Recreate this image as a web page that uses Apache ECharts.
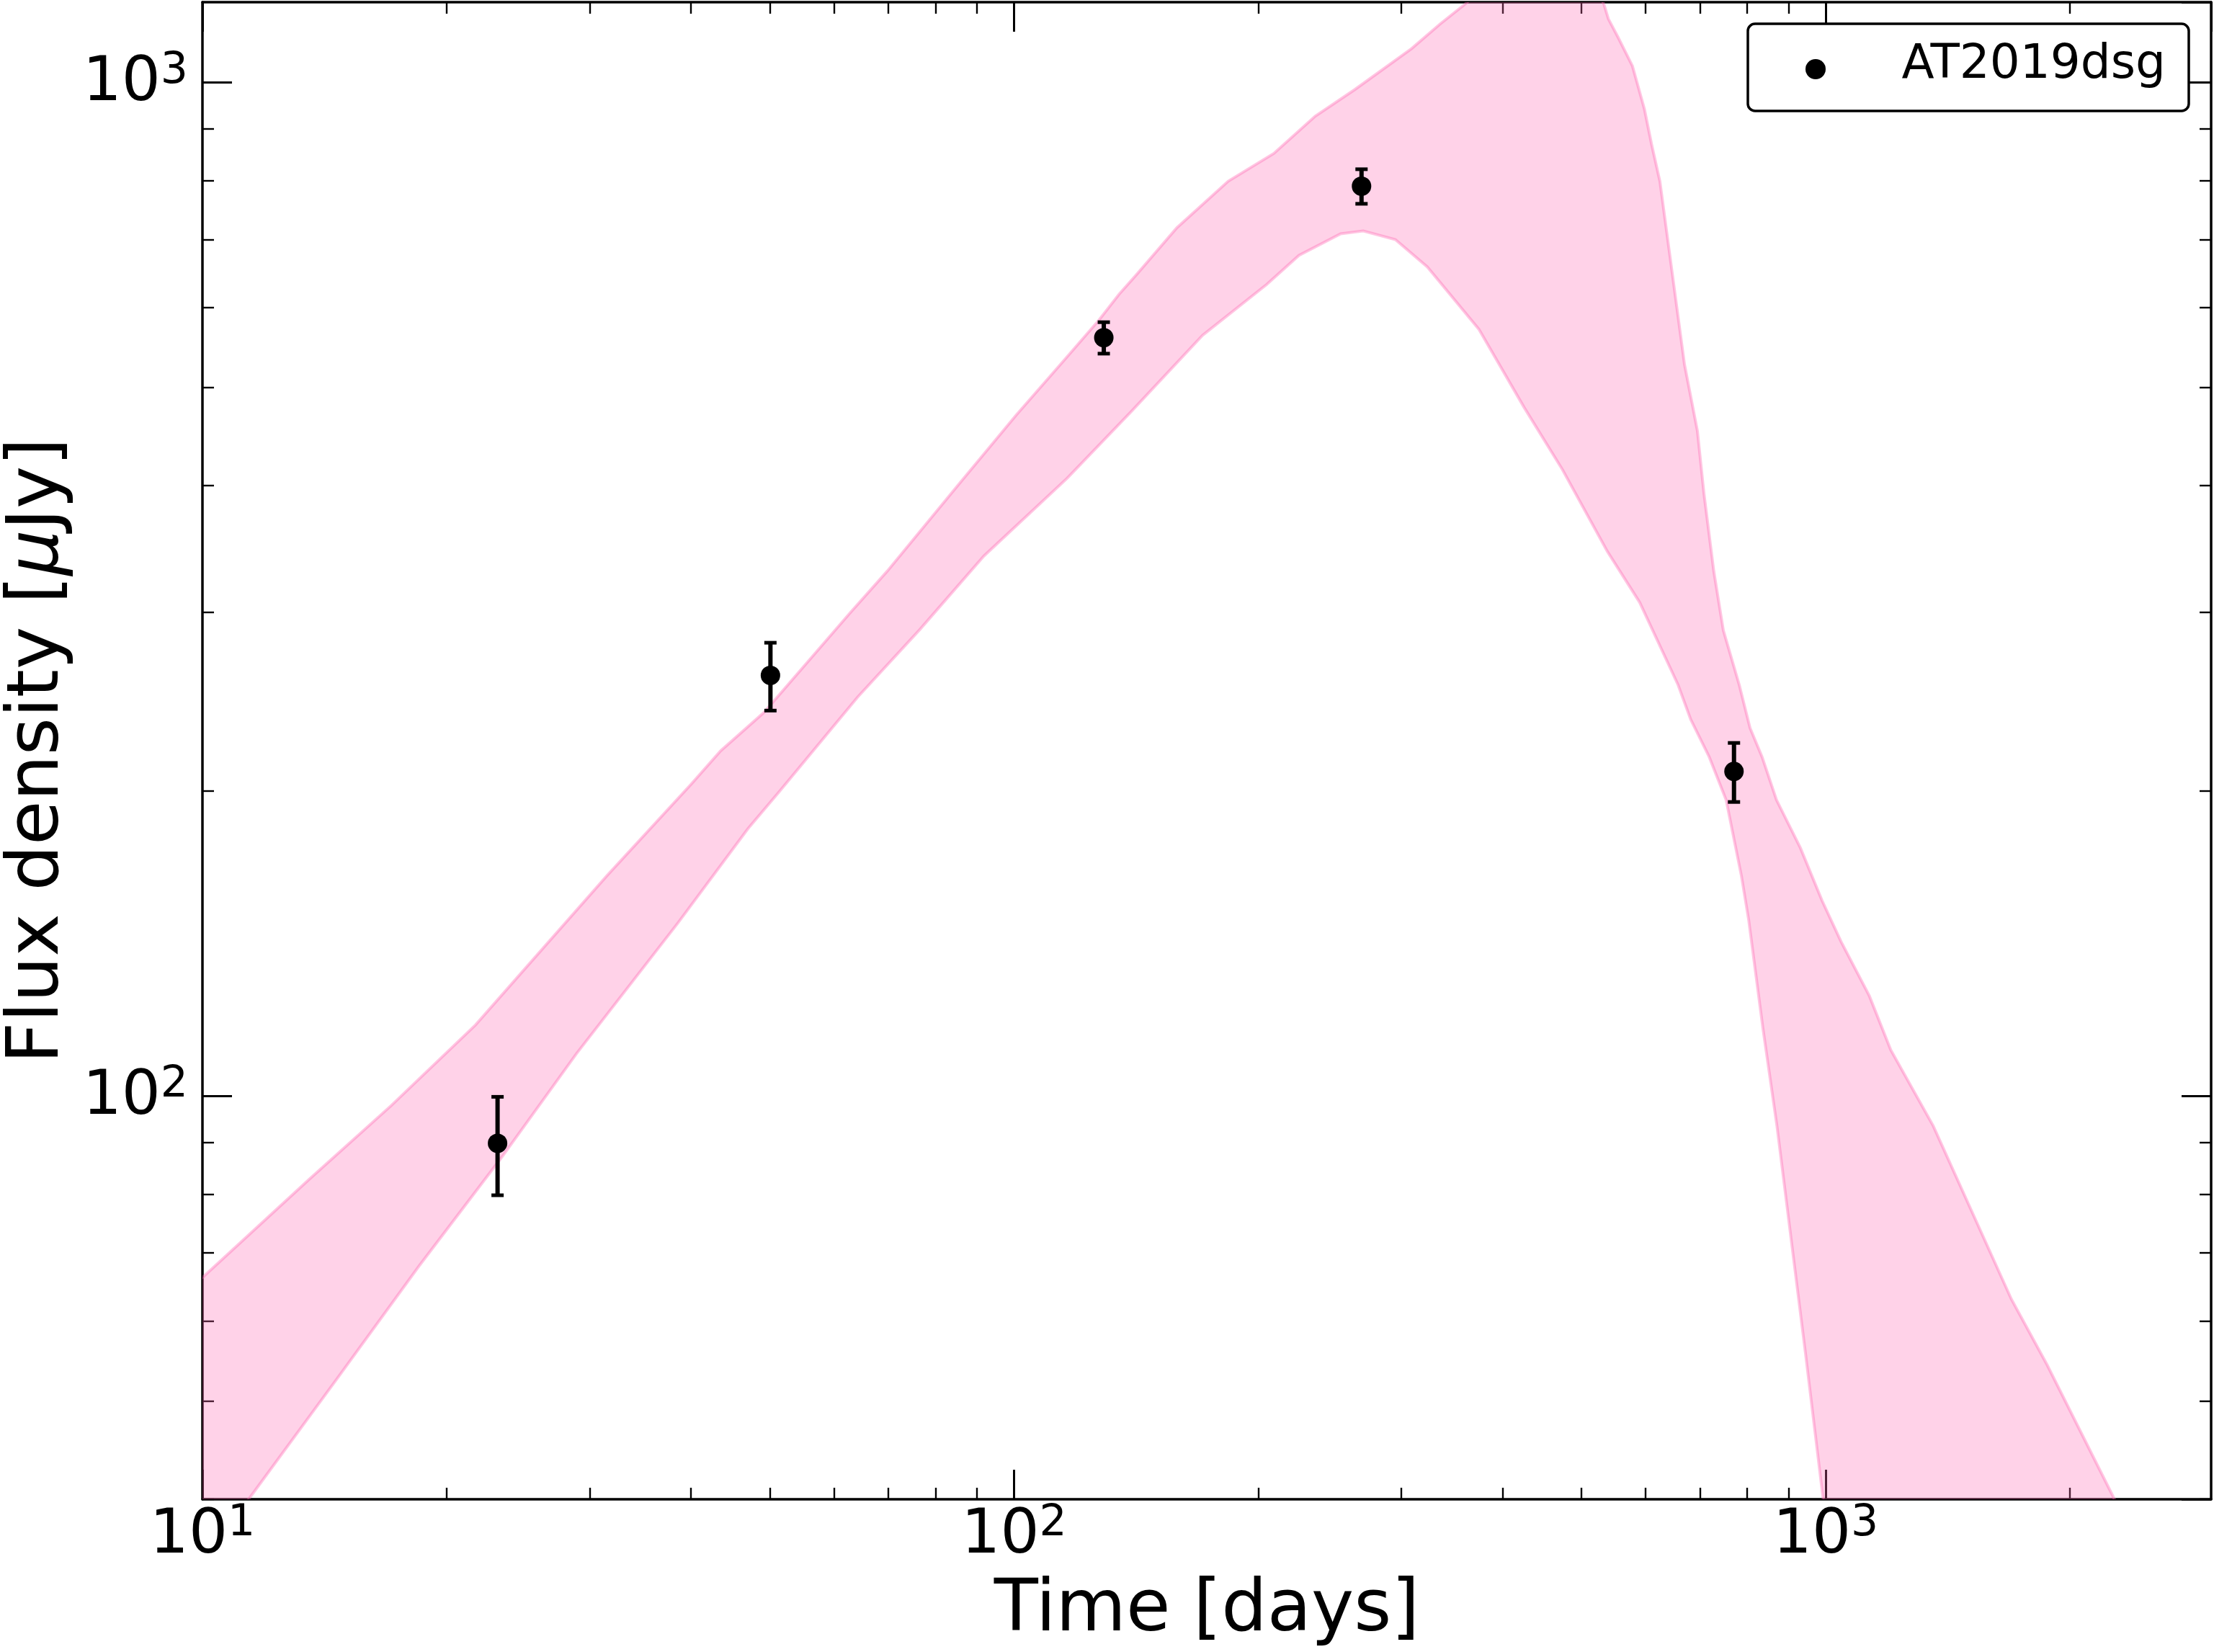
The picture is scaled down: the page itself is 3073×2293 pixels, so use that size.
<!DOCTYPE html>
<html>
<head>
<meta charset="utf-8">
<script src="https://cdn.jsdelivr.net/npm/echarts@6/dist/echarts.min.js"></script>
<style>
  html, body { margin: 0; padding: 0; background: #fff; }
  #chart { width: 3073px; height: 2293px; }
</style>
</head>
<body>
<div id="chart"></div>
<script>
// observed flux densities
const days = [23.1, 50.1, 129, 268, 771]
const flux = [89.8, 260, 560, 790, 209]
const fluxErr = [10, 20, 20, 31, 14]

// model band edges [days, flux]
const bandUpper = [
  [9.8, 65.8], [10, 66.2], [13.55, 82.8], [17.1, 97.9], [21.7, 117.5], [24.8, 132.7],
  [31.5, 164.9], [40, 203], [43.5, 219], [49.2, 239], [62.8, 299.6], [69.8, 329.5],
  [85.3, 400.4], [100.6, 469.6], [116.3, 536.3], [127.3, 583], [134.7, 618], [141.5, 646],
  [158.7, 718.7], [183.6, 799], [209, 851], [235, 926], [263, 984], [309, 1080],
  [335, 1142], [358.8, 1193], [400, 1290], [460, 1340], [510, 1280], [532.6, 1197],
  [539.9, 1155], [554.9, 1108], [578, 1038], [598, 941], [610.5, 867.5], [624.8, 799],
  [670, 526.8], [695, 453], [708, 393], [728, 329.5], [748, 288], [782.6, 254.4],
  [806.9, 230.7], [835, 216], [869.8, 195.9], [931, 175.6], [990, 155.8], [1044.5, 142],
  [1132, 125.5], [1203, 111], [1357, 93.4], [1694, 63], [1874, 54.3], [2269, 40], [2342, 38]
]
const bandLower = [
  [9.8, 34.5], [11.4, 40], [14.65, 52.6], [18.5, 68], [23.4, 87.1], [28.9, 110.1],
  [38.5, 148], [47, 183.5], [51.2, 199], [64.2, 247.6], [76.5, 288.4], [91.8, 341],
  [116.3, 407], [139.6, 473.9], [170.7, 563], [204.8, 632], [224.4, 675], [252.6, 709],
  [269.3, 713.7], [295, 699.8], [323, 657.7], [374, 570.6], [425, 478], [474, 414.8],
  [538.5, 344.4], [590, 306.9], [658, 254.4], [682, 235.2], [718.7, 216], [754, 195.9],
  [787.7, 164.6], [804, 149], [837, 116.6], [871, 93.4], [907, 72.1], [944.5, 55.7],
  [993, 40], [1001, 38]
]

const xMinorTicks = [20, 30, 40, 50, 60, 70, 80, 90, 200, 300, 400, 500, 600, 700, 800, 900, 2000]
const yMinorTicks = [40, 50, 60, 70, 80, 90, 200, 300, 400, 500, 600, 700, 800, 900]

const FONT = '"DejaVu Sans", sans-serif'
const xRange = { min: 10, max: 2985 }
const yRange = { min: 40, max: 1200 }

const powLabel = (v) => `{b|10}{s|${Math.round(Math.log10(v))}}`
const powRich = {
  b: { fontSize: 85, fontFamily: FONT, color: '#000', lineHeight: 90, verticalAlign: 'bottom' },
  s: { fontSize: 60, fontFamily: FONT, color: '#000', lineHeight: 40, verticalAlign: 'top' },
}

function xAxisOf(position, major, withLabels) {
  return {
    type: 'log', logBase: 10, position, ...xRange,
    axisLine: { show: major, lineStyle: { color: '#000', width: 3.5 } },
    axisTick: major
      ? { show: true, inside: true, length: 41, lineStyle: { color: '#000', width: 3 } }
      : { show: true, inside: true, length: 16, customValues: xMinorTicks, lineStyle: { color: '#000', width: 2.4 } },
    axisLabel: withLabels
      ? { show: true, margin: 4, formatter: powLabel, rich: powRich, showMaxLabel: false }
      : { show: false },
    splitLine: { show: false },
  }
}

function yAxisOf(position, major, withLabels) {
  return {
    type: 'log', logBase: 10, position, ...yRange,
    axisLine: { show: major, lineStyle: { color: '#000', width: 3.5 } },
    axisTick: major
      ? { show: true, inside: true, length: 41, lineStyle: { color: '#000', width: 3 } }
      : { show: true, inside: true, length: 16, customValues: yMinorTicks, lineStyle: { color: '#000', width: 2.4 } },
    axisLabel: withLabels
      ? { show: true, margin: 20, formatter: powLabel, rich: powRich, showMinLabel: false, showMaxLabel: false }
      : { show: false },
    splitLine: { show: false },
  }
}

const chart = echarts.init(document.getElementById('chart'), null, { renderer: 'canvas' })

const xAxes = [
  { ...xAxisOf('bottom', true, true), name: 'Time [days]', nameLocation: 'middle', nameGap: 106,
    nameTextStyle: { fontSize: 100, fontFamily: FONT, color: '#000' } },
  xAxisOf('bottom', false, false),
  xAxisOf('top', true, false),
  xAxisOf('top', false, false),
]
const yAxes = [
  { ...yAxisOf('left', true, true), name: 'Flux density [{mu|μ}Jy]', nameLocation: 'middle', nameGap: 173,
    nameRotate: 90,
    nameTextStyle: { fontSize: 100, fontFamily: FONT, color: '#000',
      rich: { mu: { fontSize: 100, fontFamily: FONT, fontStyle: 'italic', color: '#000' } } } },
  yAxisOf('left', false, false),
  yAxisOf('right', true, false),
  yAxisOf('right', false, false),
]

const bandVertices = bandUpper.concat(bandLower.slice().reverse())

chart.setOption({
  animation: false,
  backgroundColor: '#ffffff',
  grid: { left: 281, right: 4, top: 3, bottom: 212, containLabel: false, outerBoundsMode: 'none' },
  xAxis: xAxes,
  yAxis: yAxes,
  series: [
    {
      name: 'band',
      type: 'custom',
      xAxisIndex: 0,
      yAxisIndex: 0,
      data: bandVertices,
      encode: { x: 0, y: 1 },
      z: 1,
      renderItem: (params, api) => {
        if (params.dataIndexInside !== 0) return null
        const pts = []
        for (let i = 0; i < params.dataInsideLength; i++) {
          pts.push(api.coord([api.value(0, i), api.value(1, i)]))
        }
        const cs = params.coordSys
        return {
          type: 'polygon',
          shape: { points: pts },
          style: { fill: 'rgba(255,105,180,0.3)', stroke: 'rgba(255,105,180,0.38)', lineWidth: 4 },
          clipPath: { type: 'rect', shape: { x: cs.x, y: cs.y, width: cs.width, height: cs.height } },
        }
      },
    },
    {
      name: 'errors',
      type: 'custom',
      xAxisIndex: 0,
      yAxisIndex: 0,
      data: days.map((d, i) => [d, flux[i] - fluxErr[i], flux[i] + fluxErr[i]]),
      encode: { x: 0, y: [1, 2] },
      z: 3,
      renderItem: (params, api) => {
        const t = api.value(0)
        const lo = api.coord([t, api.value(1)])
        const hi = api.coord([t, api.value(2)])
        const hw = 8.5
        const style = { stroke: '#000', lineWidth: 6 }
        const cap = { stroke: '#000', lineWidth: 5 }
        return {
          type: 'group',
          children: [
            { type: 'line', shape: { x1: lo[0], y1: lo[1], x2: hi[0], y2: hi[1] }, style },
            { type: 'line', shape: { x1: hi[0] - hw, y1: hi[1], x2: hi[0] + hw, y2: hi[1] }, style: cap },
            { type: 'line', shape: { x1: lo[0] - hw, y1: lo[1], x2: lo[0] + hw, y2: lo[1] }, style: cap },
          ],
        }
      },
    },
    {
      name: 'AT2019dsg',
      type: 'scatter',
      xAxisIndex: 0,
      yAxisIndex: 0,
      data: days.map((d, i) => [d, flux[i]]),
      symbol: 'circle',
      symbolSize: 27,
      itemStyle: { color: '#000', opacity: 1 },
      z: 4,
    },
  ],
  graphic: [
    { type: 'rect', z: 100, shape: { x: 2426, y: 33, width: 612, height: 121, r: 10 },
      style: { fill: '#fff', stroke: '#000', lineWidth: 3.5 } },
    { type: 'circle', z: 101, shape: { cx: 2520, cy: 96, r: 14 }, style: { fill: '#000' } },
    { type: 'text', z: 101, x: 3006, y: 91,
      style: { text: 'AT2019dsg', font: `66px ${FONT}`, fill: '#000', align: 'right', verticalAlign: 'middle' } },
  ],
})
</script>
</body>
</html>
